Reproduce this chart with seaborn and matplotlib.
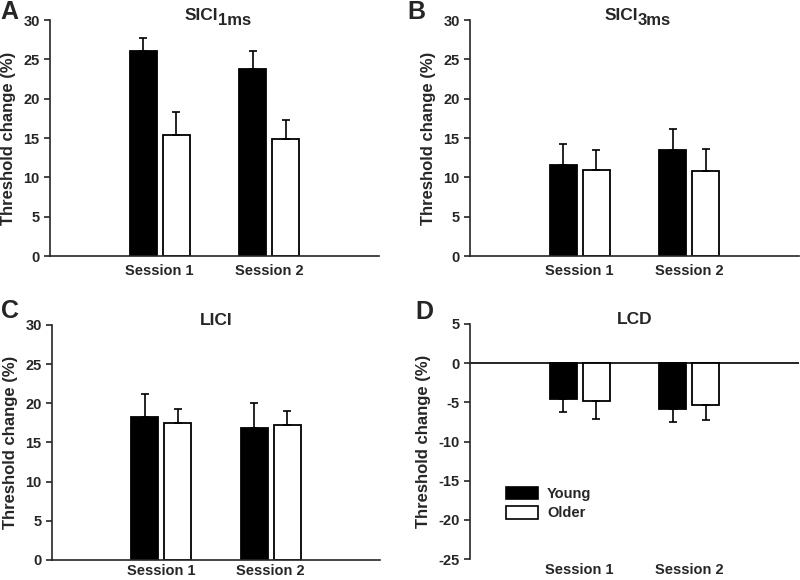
import numpy as np
import pandas as pd
import matplotlib
matplotlib.use("Agg")
import matplotlib.pyplot as plt
import seaborn as sns
from matplotlib.patches import Patch

sns.set_style("ticks")
plt.rcParams['font.family'] = ['Liberation Sans', 'DejaVu Sans']
plt.rcParams['font.weight'] = 'bold'
plt.rcParams['axes.unicode_minus'] = False

sessions = ["Session 1", "Session 2"]
groups = ["Young", "Older"]

# means per group (Session 1, Session 2)
sici1_young = [26.0, 23.8]
sici1_older = [15.4, 14.9]
sici1_young_err = [1.7, 2.2]
sici1_older_err = [2.9, 2.4]

sici3_young = [11.6, 13.5]
sici3_older = [10.9, 10.8]
sici3_young_err = [2.7, 2.6]
sici3_older_err = [2.6, 2.8]

lici_young = [18.2, 16.8]
lici_older = [17.5, 17.2]
lici_young_err = [3.0, 3.2]
lici_older_err = [1.8, 1.8]

lcd_young = [-4.6, -5.8]
lcd_older = [-4.8, -5.3]
lcd_young_err = [1.6, 1.7]
lcd_older_err = [2.3, 2.0]

# (letter, title, subscript, ...)
panels = [
    ("A", "SICI", "1ms", sici1_young, sici1_older, sici1_young_err, sici1_older_err, (0, 30)),
    ("B", "SICI", "3ms", sici3_young, sici3_older, sici3_young_err, sici3_older_err, (0, 30)),
    ("C", "LICI", "", lici_young, lici_older, lici_young_err, lici_older_err, (0, 30)),
    ("D", "LCD", "", lcd_young, lcd_older, lcd_young_err, lcd_older_err, (-25, 5)),
]

# axes rectangles [left, bottom, width, height] in figure fraction
rects = [
    [0.0625, 0.5586, 0.411, 0.4069],
    [0.5875, 0.5586, 0.411, 0.4069],
    [0.065, 0.0345, 0.410, 0.4052],
    [0.5875, 0.036, 0.411, 0.4054],
]
# panel letter positions (figure fraction)
letter_pos = [(0.012, 0.979), (0.520, 0.979), (0.012, 0.464), (0.530, 0.462)]

fig = plt.figure(figsize=(8, 5.8), dpi=100)

for i, ((letter, title, sub, young, older, young_err, older_err, ylim), rect, lp) in enumerate(zip(panels, rects, letter_pos)):
    ax = fig.add_axes(rect)
    df = pd.DataFrame({
        "session": sessions * 2,
        "group": [groups[0]] * 2 + [groups[1]] * 2,
        "value": young + older,
    })
    sns.barplot(data=df, x="session", y="value", hue="group", order=sessions,
                hue_order=groups, palette=["black", "white"], width=0.6, gap=0.18,
                edgecolor="black", linewidth=1.3, errorbar=None, legend=False, ax=ax)

    for container, errs in zip(ax.containers, [young_err, older_err]):
        for bar, e in zip(container, errs):
            xc = bar.get_x() + bar.get_width() / 2
            h = bar.get_height()
            if h >= 0:
                yerr = [[0], [e]]
            else:
                yerr = [[e], [0]]
            ax.errorbar([xc], [h], yerr=yerr, fmt="none", ecolor="black",
                        elinewidth=1.2, capsize=3.2, capthick=1.2, zorder=1)

    ax.set_xlim(-1, 2)
    ax.set_ylim(*ylim)
    ax.set_yticks(np.arange(ylim[0], ylim[1] + 1, 5))
    ax.set_xlabel("")
    ax.set_ylabel("Threshold change (%)", fontsize=12, fontweight="bold", labelpad=5)
    ax.tick_params(axis="x", length=0, labelsize=10.5, pad=6 if i < 2 else 3)
    ax.tick_params(axis="y", length=4, width=1.2, labelsize=10.5, direction="out")
    for lab in ax.get_xticklabels() + ax.get_yticklabels():
        lab.set_fontweight("bold")
    sns.despine(ax=ax)
    ax.spines["left"].set_linewidth(1.2)
    ax.spines["bottom"].set_linewidth(1.2)

    if sub:
        ax.text(0.51, 1.0, title, transform=ax.transAxes, fontsize=12.5,
                fontweight="bold", ha="right", va="baseline")
        ax.text(0.51, 0.978, sub, transform=ax.transAxes, fontsize=12,
                fontweight="bold", ha="left", va="baseline")
    else:
        ax.text(0.5, 1.0, title, transform=ax.transAxes, fontsize=12.5,
                fontweight="bold", ha="center", va="baseline")
    fig.text(lp[0], lp[1], letter, fontsize=18, fontweight="bold",
             ha="center", va="center")

    if letter == "D":
        ax.spines["bottom"].set_visible(False)
        ax.axhline(0, color="black", linewidth=1.2, zorder=0)
        handles = [Patch(facecolor="black", edgecolor="black", linewidth=1.2),
                   Patch(facecolor="white", edgecolor="black", linewidth=1.2)]
        ax.legend(handles, groups, loc="center left", bbox_to_anchor=(0.07, 0.235),
                  frameon=False, handlelength=2.2, handleheight=0.9,
                  labelspacing=0.35, handletextpad=0.6, prop={"weight": "bold", "size": 10.5})

fig.savefig("out.png", dpi=100)
